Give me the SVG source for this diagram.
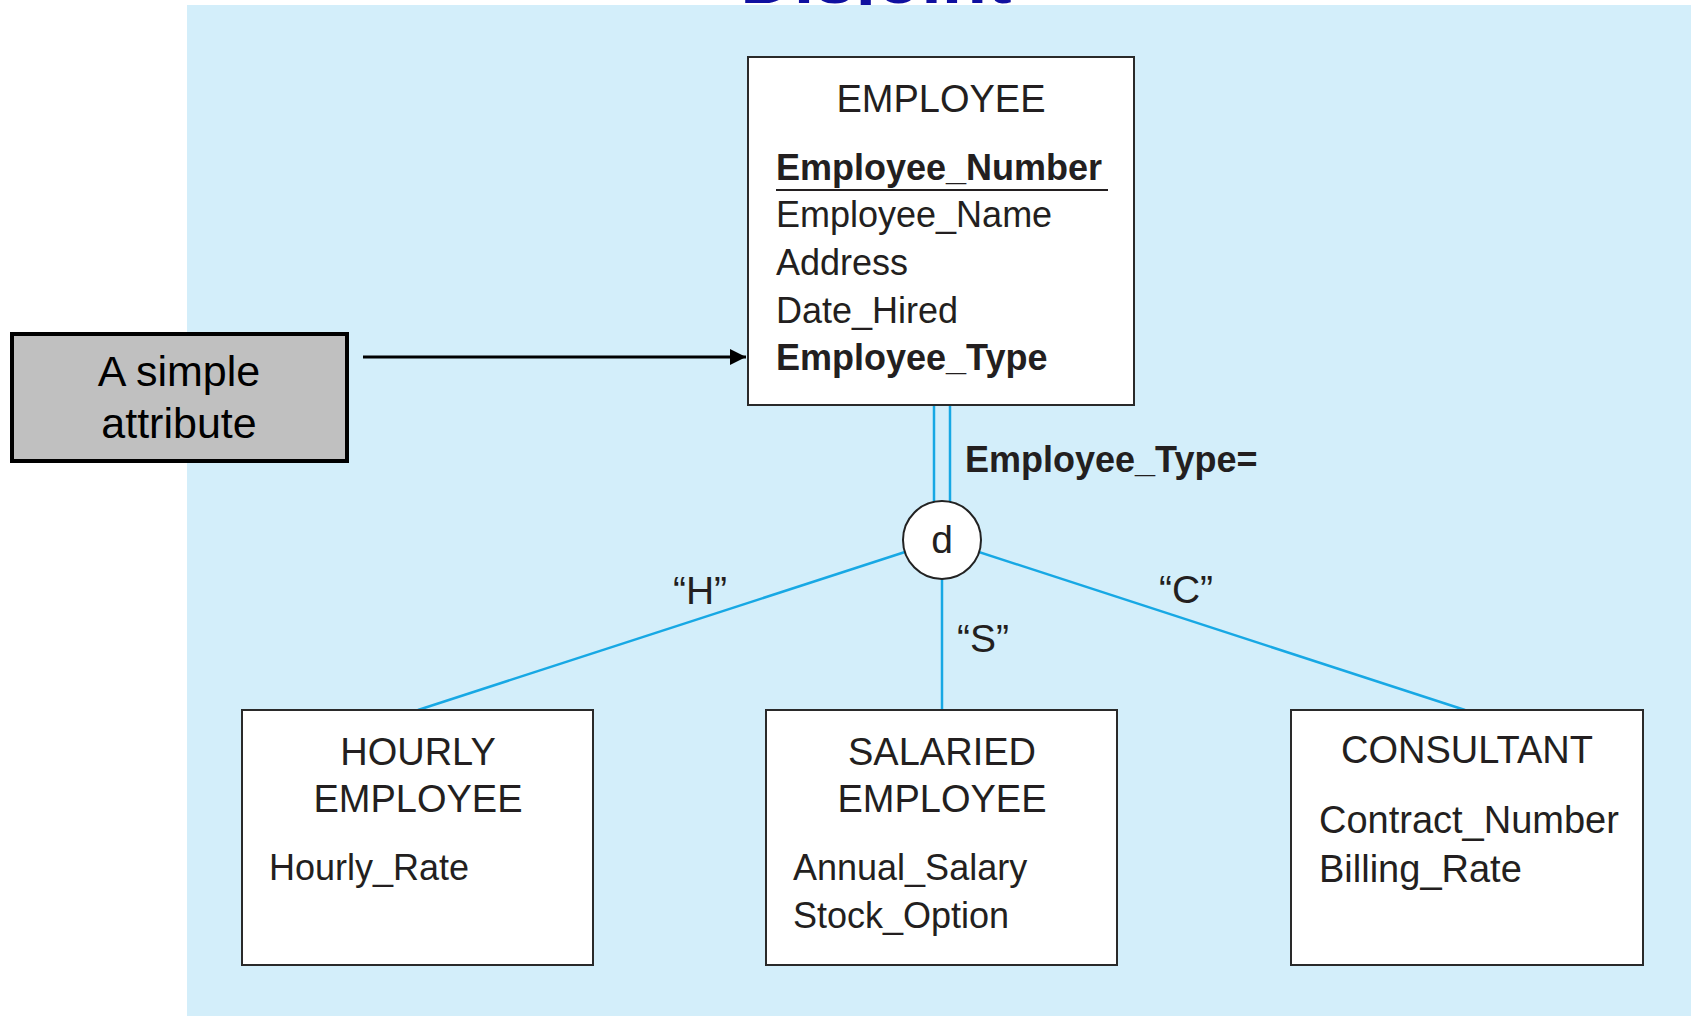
<svg xmlns="http://www.w3.org/2000/svg" width="1691" height="1016" viewBox="0 0 1691 1016">
<defs>
<style>
text{font-family:"Liberation Sans",Arial,Helvetica,sans-serif;fill:#231f20;font-size:36px}
.b{font-weight:bold}
.c{text-anchor:middle}
.t{font-size:38px}
.q{font-size:39px}
.ent{fill:#ffffff;stroke:#2a2a2a;stroke-width:2}
.conn{stroke:#17a8e4;stroke-width:2.5;fill:none}
</style>
<marker id="ah" viewBox="0 0 10 10" refX="10" refY="5" markerWidth="5.5" markerHeight="5.5" markerUnits="strokeWidth" orient="auto">
<path d="M0,0 L10,5 L0,10 z" fill="#000"/>
</marker>
</defs>
<rect x="0" y="0" width="1691" height="1016" fill="#ffffff"/>
<text x="876" y="3" class="b c" style="font-size:74px;fill:#1010a0">Disjoint</text>
<rect x="187" y="5" width="1504" height="1011" fill="#d3eefa"/>

<g id="connectors">
<line class="conn" x1="934" y1="405" x2="934" y2="510"/>
<line class="conn" x1="950" y1="405" x2="950" y2="510"/>
<line class="conn" x1="942" y1="540" x2="418" y2="710"/>
<line class="conn" x1="942" y1="540" x2="942" y2="710"/>
<line class="conn" x1="942" y1="540" x2="1465" y2="710"/>
<line x1="363" y1="357" x2="746" y2="357" stroke="#000" stroke-width="3" marker-end="url(#ah)"/>
</g>

<g id="employee">
<rect class="ent" x="748" y="57" width="386" height="348"/>
<text x="941" y="112" class="c t">EMPLOYEE</text>
<text x="776" y="180" class="b">Employee_Number</text>
<line x1="776" y1="190" x2="1108" y2="190" stroke="#231f20" stroke-width="2"/>
<text x="776" y="227">Employee_Name</text>
<text x="776" y="275">Address</text>
<text x="776" y="323">Date_Hired</text>
<text x="776" y="370" class="b">Employee_Type</text>
</g>

<g id="note">
<rect x="12" y="334" width="335" height="127" fill="#c0c0c0" stroke="#000" stroke-width="4"/>
<text x="179" y="386" class="c" style="font-size:43px;fill:#000">A simple</text>
<text x="179" y="438" class="c" style="font-size:43px;fill:#000">attribute</text>
</g>

<g id="disc-label">
<text x="965" y="472" class="b">Employee_Type=</text>
</g>

<g id="disjoint">
<circle cx="942" cy="540" r="39" fill="#ffffff" stroke="#222" stroke-width="2"/>
<text x="942" y="553" class="c" style="font-size:39px">d</text>
</g>

<g id="labels">
<text x="700" y="604" class="c q">“H”</text>
<text x="983" y="652" class="c q">“S”</text>
<text x="1186" y="603" class="c q">“C”</text>
</g>

<g id="hourly">
<rect class="ent" x="242" y="710" width="351" height="255"/>
<text x="418" y="765" class="c t">HOURLY</text>
<text x="418" y="812" class="c t">EMPLOYEE</text>
<text x="269" y="880">Hourly_Rate</text>
</g>

<g id="salaried">
<rect class="ent" x="766" y="710" width="351" height="255"/>
<text x="942" y="765" class="c t">SALARIED</text>
<text x="942" y="812" class="c t">EMPLOYEE</text>
<text x="793" y="880">Annual_Salary</text>
<text x="793" y="928">Stock_Option</text>
</g>

<g id="consultant">
<rect class="ent" x="1291" y="710" width="352" height="255"/>
<text x="1467" y="763" class="c t">CONSULTANT</text>
<text x="1319" y="833" class="t">Contract_Number</text>
<text x="1319" y="882" class="t">Billing_Rate</text>
</g>
</svg>
